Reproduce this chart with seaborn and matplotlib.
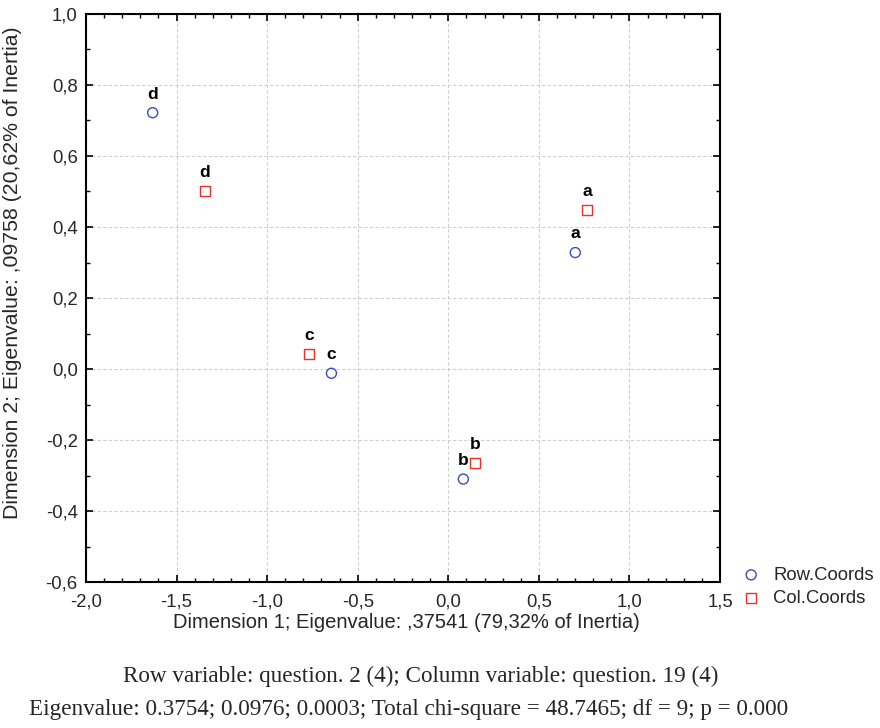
import matplotlib
matplotlib.use("Agg")
import matplotlib.pyplot as plt
from matplotlib.ticker import FixedLocator, MultipleLocator, FuncFormatter
import seaborn as sns
import pandas as pd

# Correspondence analysis coordinates
categories = ["a", "b", "c", "d"]
row_dim1 = [0.701, 0.083, -0.645, -1.632]
row_dim2 = [0.328, -0.310, -0.012, 0.722]
col_dim1 = [0.767, 0.150, -0.767, -1.343]
col_dim2 = [0.447, -0.266, 0.041, 0.502]
series_names = ["Row.Coords", "Col.Coords"]

x_ticks = [-2.0, -1.5, -1.0, -0.5, 0.0, 0.5, 1.0, 1.5]
y_ticks = [-0.6, -0.4, -0.2, 0.0, 0.2, 0.4, 0.6, 0.8, 1.0]

x_label = "Dimension 1; Eigenvalue: ,37541 (79,32% of Inertia)"
y_label = "Dimension 2; Eigenvalue: ,09758 (20,62% of Inertia)"
caption_1 = "Row variable: question. 2 (4); Column variable: question. 19 (4)"
caption_2 = ("Eigenvalue: 0.3754; 0.0976; 0.0003; Total chi-square = 48.7465; "
             "df = 9; p = 0.000")

df = pd.concat([
    pd.DataFrame({"dim1": row_dim1, "dim2": row_dim2, "cat": categories,
                  "kind": series_names[0]}),
    pd.DataFrame({"dim1": col_dim1, "dim2": col_dim2, "cat": categories,
                  "kind": series_names[1]}),
], ignore_index=True)

sns.set_style("white")
plt.rcParams["font.family"] = ["Liberation Sans", "DejaVu Sans"]

fig = plt.figure(figsize=(8.8, 7.28), dpi=100)
ax = fig.add_axes([0.0977, 0.2005, 0.7205, 0.7803])

styles = {
    series_names[0]: dict(marker="o", color="#3a4fb8"),
    series_names[1]: dict(marker="s", color="#e8322c"),
}
for name, st in styles.items():
    sub = df[df["kind"] == name]
    sns.scatterplot(data=sub, x="dim1", y="dim2", ax=ax, marker=st["marker"],
                    s=52, facecolor="none", edgecolor=st["color"],
                    linewidth=1.0, label=name, zorder=3)
    for _, r in sub.iterrows():
        ax.annotate(r["cat"], (r["dim1"], r["dim2"]), xytext=(0, 8),
                    textcoords="offset points", ha="center", va="bottom",
                    fontsize=12.5, fontweight="bold", color="black")

ax.set_xlim(x_ticks[0], x_ticks[-1])
ax.set_ylim(y_ticks[0], y_ticks[-1])
fmt = FuncFormatter(lambda v, p: f"{v:.1f}".replace(".", ","))
ax.xaxis.set_major_locator(FixedLocator(x_ticks))
ax.yaxis.set_major_locator(FixedLocator(y_ticks))
ax.xaxis.set_major_formatter(fmt)
ax.yaxis.set_major_formatter(fmt)
ax.xaxis.set_minor_locator(MultipleLocator(0.1))
ax.yaxis.set_minor_locator(MultipleLocator(0.1))
ax.tick_params(which="both", direction="in", top=True, right=True,
               bottom=True, left=True, color="black")
ax.tick_params(which="major", length=5, width=1.2, labelsize=13.3)
ax.tick_params(axis="x", which="major", pad=8)
ax.tick_params(axis="y", which="major", pad=6)
ax.tick_params(which="minor", length=3, width=1.0)
for sp in ax.spines.values():
    sp.set_color("black")
    sp.set_linewidth(1.5)
ax.grid(True, which="major", linestyle=(0, (3, 2)), color="#cfcfcf",
        linewidth=0.8)
ax.set_axisbelow(True)

ax.set_xlabel(x_label, fontsize=14.5, va="center")
ax.xaxis.set_label_coords(0.5055, -0.072)
ax.set_ylabel(y_label, fontsize=15.3, va="center")
ax.yaxis.set_label_coords(-0.1151, 0.545)

ax.legend(loc="upper left", bbox_to_anchor=(1.02, 0.04), frameon=False,
          fontsize=13.3, handletextpad=0.6, borderaxespad=0, labelspacing=0.35,
          handlelength=1.2)

fig.text(421 / 880, 1 - 676 / 728, caption_1, ha="center", va="center",
         fontsize=16.7, family=["Liberation Serif", "DejaVu Serif"])
fig.text(409 / 880, 1 - 709 / 728, caption_2, ha="center", va="center",
         fontsize=16.7, family=["Liberation Serif", "DejaVu Serif"])

fig.savefig("out.png", dpi=100)
